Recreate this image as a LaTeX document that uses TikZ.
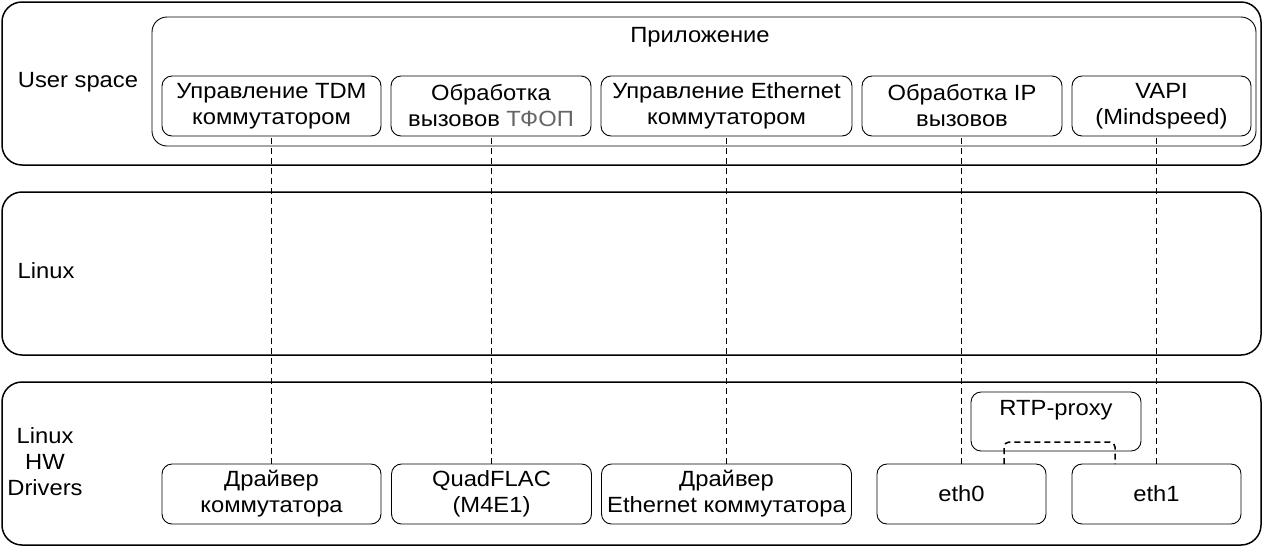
\documentclass[tikz,border=0pt]{standalone}
\usepackage{fontspec}
\setmainfont[FakeStretch=1.08]{Liberation Sans}
\usetikzlibrary{calc}
\definecolor{pstngray}{HTML}{666666}
\begin{document}
\begin{tikzpicture}[x=1pt,y=-1pt,
  every node/.style={inner sep=0pt, outer sep=0pt},
  txt/.style={font=\fontsize{22}{26}\selectfont, align=center},
  layer/.style={draw, line width=1.5pt, rounded corners=20pt, minimum width=1259pt, minimum height=163pt},
  groupbox/.style={draw, line width=0.9pt, rounded corners=15pt},
  unit/.style={draw, line width=0.9pt, rounded corners=10pt, minimum height=60pt, txt},
  link/.style={draw, line width=1.5pt, dash pattern=on 6pt off 4pt}
]
\useasboundingbox (0,0) rectangle (1263,550);

% three layers
\node[layer] (user)  at (631.5,83.5)  {};
\node[layer] (linux) at (631.5,273.5) {};
\node[layer] (hw)    at (631.5,463.5) {};

\node[txt] (userlbl)  at (78,82)  {User space};
\node[txt] (linuxlbl) at (46,271) {Linux};
\node[txt] (hwlbl)    at (45,462) {Linux\\HW\\Drivers};

% application group
\node[groupbox, minimum width=1104pt, minimum height=129pt] (app) at (704,81.5) {};
\node[txt] (applbl) at (700,37) {Приложение};

% user-space components
\node[unit, minimum width=219pt] (tdm)  at (271.5,106) {Управление TDM\\коммутатором};
\node[unit, minimum width=200pt] (pstn) at (491,106)   {Обработка\\вызовов \textcolor{pstngray}{ТФОП}};
\node[unit, minimum width=251pt] (ethm) at (726.5,106) {Управление Ethernet\\коммутатором};
\node[unit, minimum width=200pt] (ip)   at (962,106)   {Обработка IP\\вызовов};
\node[unit, minimum width=179pt] (vapi) at (1161.5,106) {VAPI\\(Mindspeed)};

% drivers
\node[unit, minimum width=219pt] (drv)   at (271.5,494) {Драйвер\\коммутатора};
\node[unit, minimum width=200pt] (quad)  at (491.5,494) {QuadFLAC\\(M4E1)};
\node[unit, minimum width=250pt] (ethd)  at (726.5,494) {Драйвер\\Ethernet коммутатора};
\node[unit, minimum width=169pt] (eth0)  at (961.5,494) {eth0};
\node[unit, minimum width=169pt] (eth1)  at (1156.5,494) {eth1};
\node[draw, line width=0.9pt, rounded corners=10pt, minimum width=170pt, minimum height=59pt] (rtp) at (1056,421.5) {};
\node[txt] (rtplbl) at (1056,410) {RTP-proxy};

% links between layers
\draw[link] (drv.north)  -- (drv.north |- tdm.south);
\draw[link] (quad.north) -- (quad.north |- pstn.south);
\draw[link] (ethd.north) -- (ethd.north |- ethm.south);
\draw[link] (eth0.north) -- (eth0.north |- ip.south);
\draw[link] (eth1.north) -- (eth1.north |- vapi.south);
\draw[link, rounded corners=5pt] ($(eth0.north east)+(-42,0)$) |- ($(rtp.south)+(0,-9)$) -| ($(eth1.north west)+(43,0)$);
\end{tikzpicture}
\end{document}
